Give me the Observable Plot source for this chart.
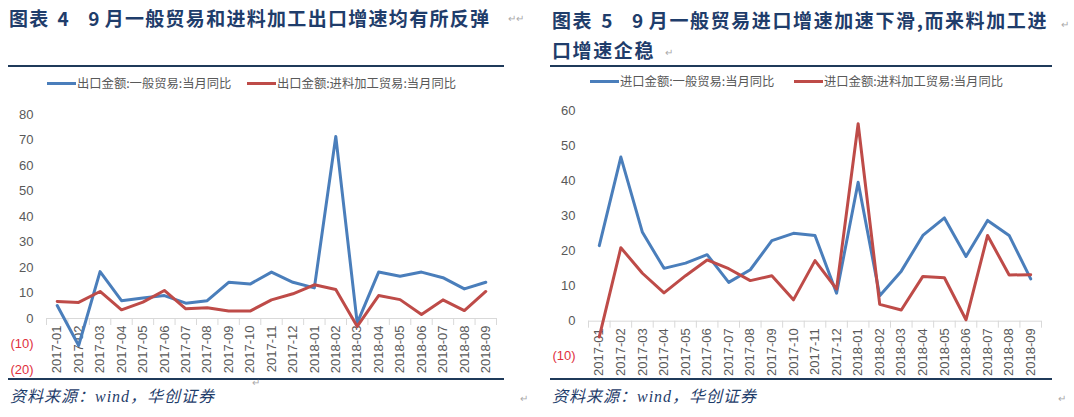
<!DOCTYPE html>
<html><head><meta charset="utf-8">
<script src="https://cdn.jsdelivr.net/npm/d3@7"></script>
<script src="https://cdn.jsdelivr.net/npm/@observablehq/plot@0.6"></script>
<style>
body{margin:0;background:#fff;width:1074px;height:417px;position:relative;overflow:hidden;font-family:"Noto Sans CJK SC",sans-serif;}
.abs{position:absolute;white-space:nowrap;}
.title{font-weight:700;font-size:19px;color:#1f3d6b;letter-spacing:1.3px;line-height:30px;}
.rule{position:absolute;height:2px;background:#1f3a5a;}
.leg{font-size:12.3px;color:#595959;line-height:16px;}
.sw{position:absolute;height:3px;width:29px;}
.src{font-style:italic;font-size:16px;color:#1f3d6b;letter-spacing:1px;font-family:"Liberation Serif","Noto Sans CJK SC",serif;line-height:20px;}
.pm{color:#aaa;font-size:10px;line-height:12px;}
.chart{position:absolute;top:95px;}
</style></head><body>
<div class="abs title" style="left:9px;top:3px;">图表<span style="margin-left:8px">4</span><span style="margin-left:18px">9</span><span style="margin-left:4px">月一般贸易和进料加工出口增速均有所反弹</span></div>
<div class="abs title" style="left:552px;top:5px;letter-spacing:1.6px;">图表<span style="margin-left:8px">5</span><span style="margin-left:18px">9</span><span style="margin-left:4px">月一般贸易进口增速加速下滑,而来料加工进</span><br>口增速企稳</div>
<div class="abs pm" style="left:508px;top:12px;">↵↵</div>
<div class="abs pm" style="left:1061px;top:18px;">↵</div>
<div class="abs pm" style="left:665px;top:46px;">↵</div>
<div class="rule" style="left:8px;top:65px;width:496px;"></div>
<div class="rule" style="left:550px;top:65px;width:502px;"></div>

<div id="legL"></div>
<div id="legR"></div>

<div id="left" class="chart" style="left:0px;"></div>
<div id="right" class="chart" style="left:537px;"></div>

<div class="rule" style="left:8px;top:378px;width:496px;"></div>
<div class="rule" style="left:550px;top:378px;width:502px;"></div>
<div class="abs src" style="left:10px;top:387px;">资料来源：wind，华创证券</div>
<div class="abs src" style="left:552px;top:387px;">资料来源：wind，华创证券</div>
<div class="abs pm" style="left:520px;top:392px;">↵</div>
<div class="abs pm" style="left:1058px;top:392px;">↵</div>
<div class="abs pm" style="left:252px;top:376px;">↵</div>

<script>
const months = ["2017-01","2017-02","2017-03","2017-04","2017-05","2017-06","2017-07","2017-08","2017-09","2017-10","2017-11","2017-12","2018-01","2018-02","2018-03","2018-04","2018-05","2018-06","2018-07","2018-08","2018-09"];
const exportGeneral = [5.1,-10.6,18.4,7,8,9,6,7,14.2,13.5,18.2,14.2,12,71.4,-1.8,18.2,16.6,18.2,16,11.6,14.2];
const exportProcessing = [6.7,6.3,10.6,3.4,6.4,11,3.8,4.2,2.9,2.9,7.3,9.7,13.2,11.4,-3.1,9,7.4,1.6,7.3,3.1,10.6];
const importGeneral = [21.6,46.9,25.4,15.1,16.6,19,11.1,14.7,23,25.1,24.5,8,39.7,7.3,14.3,24.5,29.5,18.5,28.8,24.5,12.1];
const importProcessing = [-4.5,21,13.7,8.1,13,17.5,15,11.6,13,6.1,17.3,9.2,56.4,4.8,3.2,12.8,12.4,0.4,24.5,13.2,13.3];
const leftYTicks = [-20,-10,0,10,20,30,40,50,60,70,80];
const rightYTicks = [-10,0,10,20,30,40,50,60];
const leftLegend = ["出口金额:一般贸易:当月同比","出口金额:进料加工贸易:当月同比"];
const rightLegend = ["进口金额:一般贸易:当月同比","进口金额:进料加工贸易:当月同比"];

const BLUE = "#4a7ebb", RED = "#be4b48", GRAY = "#595959", NEG = "#e0303c";
const fmt = d => d < 0 ? `(${-d})` : `${d}`;

function chart({yDomain, yTicks, series, width, height, marginLeft, marginRight, marginTop, marginBottom}) {
  const idx = months.map((m, i) => i);
  const pxPerUnit = (height - marginTop - marginBottom) / (yDomain[1] - yDomain[0]);
  const bounds = d3.range(0, months.length + 1).map(i => i - 0.5);
  return Plot.plot({
    width, height, marginLeft, marginRight, marginTop, marginBottom,
    x: {domain: [-0.5, months.length - 0.5], axis: null},
    y: {domain: yDomain, axis: null},
    style: {fontFamily: "'Liberation Sans', Arial, sans-serif", background: "#fff"},
    marks: [
      Plot.ruleY([0], {stroke: "#d9d9d9", strokeWidth: 1}),
      Plot.ruleX(bounds, {x: d => d, y1: () => 0, y2: () => -7 / pxPerUnit, stroke: "#d9d9d9"}),
      Plot.text(yTicks.filter(d => d >= 0), {y: d => d, text: fmt, frameAnchor: "left", dx: -13, textAnchor: "end", fill: GRAY, fontSize: 13}),
      Plot.text(yTicks.filter(d => d < 0), {y: d => d, text: fmt, frameAnchor: "left", dx: -13, textAnchor: "end", fill: NEG, fontSize: 13}),
      Plot.text(idx, {x: d => d, y: () => 0, text: i => months[i], rotate: -90, textAnchor: "end", dy: 7, fill: GRAY, fontSize: 13}),
      ...series.map(s => Plot.line(s.values.map((v, i) => ({i, v})), {x: "i", y: "v", stroke: s.color, strokeWidth: 3}))
    ]
  });
}

document.getElementById("left").appendChild(chart({
  yDomain: [-20, 80], yTicks: leftYTicks,
  series: [{values: exportGeneral, color: BLUE}, {values: exportProcessing, color: RED}],
  width: 537, height: 285, marginLeft: 46, marginRight: 41, marginTop: 19, marginBottom: 11
}));
document.getElementById("right").appendChild(chart({
  yDomain: [-10, 60], yTicks: rightYTicks,
  series: [{values: importGeneral, color: BLUE}, {values: importProcessing, color: RED}],
  width: 537, height: 285, marginLeft: 51, marginRight: 33, marginTop: 15.7, marginBottom: 24.3
}));

function legend(el, labels, pos, top) {
  const colors = [BLUE, RED];
  labels.forEach((lab, k) => {
    const sw = document.createElement("div");
    sw.className = "sw"; sw.style.left = pos[k] + "px"; sw.style.top = (top - 1.5) + "px"; sw.style.background = colors[k];
    el.appendChild(sw);
    const t = document.createElement("div");
    t.className = "abs leg"; t.style.left = (pos[k] + 30) + "px"; t.style.top = (top - 8) + "px"; t.textContent = lab;
    el.appendChild(t);
  });
}
legend(document.getElementById("legL"), leftLegend, [47, 247], 83);
legend(document.getElementById("legR"), rightLegend, [590, 794], 81);
</script>
</body></html>
